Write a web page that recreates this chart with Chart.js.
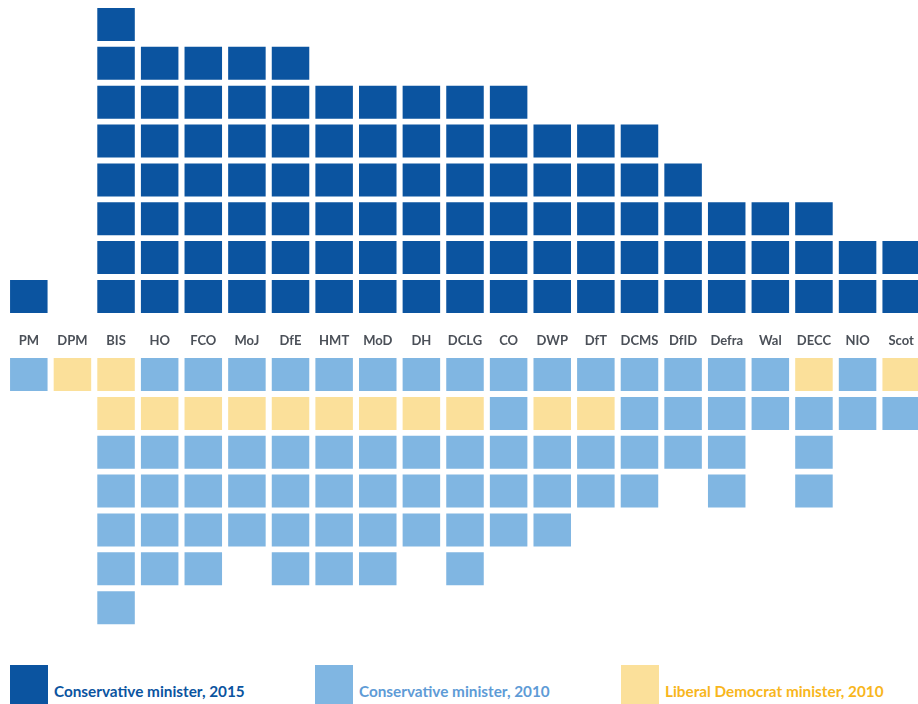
<!DOCTYPE html>
<html>
<head>
<meta charset="utf-8">
<script src="https://cdn.jsdelivr.net/npm/chart.js@4.4.1/dist/chart.umd.min.js"></script>
<style>
  html, body { margin: 0; padding: 0; background: #fff; overflow: hidden; width: 918px; height: 704px; }
  #wrap { position: absolute; left: 0; top: 0; width: 923px; height: 640px; }
  .key { position: absolute; top: 665px; height: 39px; font: bold 15.3px Lato, sans-serif; }
  .key span.box { position: absolute; left: 0; top: 0; width: 38px; height: 39px; }
  .key span.txt { position: absolute; left: 44px; top: 17px; white-space: nowrap; line-height: 18px; }
</style>
</head>
<body>
<div id="wrap"><canvas id="myChart" width="923" height="640"></canvas></div>

<div class="key" style="left:10px"><span class="box" style="background:#0b54a0"></span><span class="txt" style="color:#0b54a0">Conservative minister, 2015</span></div>
<div class="key" style="left:315px"><span class="box" style="background:#80b6e2"></span><span class="txt" style="color:#5e9bd6">Conservative minister, 2010</span></div>
<div class="key" style="left:621px"><span class="box" style="background:#fbe09a"></span><span class="txt" style="color:#f8b61c">Liberal Democrat minister, 2010</span></div>

<script>
var departments = ['PM', 'DPM', 'BIS', 'HO', 'FCO', 'MoJ', 'DfE', 'HMT', 'MoD', 'DH', 'DCLG', 'CO', 'DWP', 'DfT', 'DCMS', 'DfID', 'Defra', 'Wal', 'DECC', 'NIO', 'Scot'];

// number of Conservative ministers per department, 2015 (stacked upwards)
var conservative2015 = [1, 0, 8, 7, 7, 7, 7, 6, 6, 6, 6, 6, 5, 5, 5, 4, 3, 3, 3, 2, 2];

// ministers per department in 2010, listed from the axis downwards
// C = Conservative, L = Liberal Democrat
var ministers2010 = ['C', 'L', 'LLCCCCC', 'CLCCCC', 'CLCCCC', 'CLCCC', 'CLCCCC', 'CLCCCC', 'CLCCCC', 'CLCCC', 'CLCCCC',
    'CCCCC', 'CLCCC', 'CLCC', 'CCCC', 'CCC', 'CCCC', 'CC', 'LCCC', 'CC', 'LC'];

var dark = '#0b54a0';
var colours2010 = { C: '#80b6e2', L: '#fbe09a' };

var gapFromAxis = 0.58;
var cellHeight = 0.85;

var datasets = [];

var topRows = Math.max.apply(null, conservative2015);
for (var k = 0; k < topRows; k++) {
    datasets.push({
        label: 'Conservative minister, 2015',
        data: conservative2015.map(function (n) {
            return n > k ? [k + gapFromAxis, k + gapFromAxis + cellHeight] : null;
        }),
        backgroundColor: dark
    });
}

var bottomRows = Math.max.apply(null, ministers2010.map(function (s) { return s.length; }));
for (var r = 0; r < bottomRows; r++) {
    datasets.push({
        label: '2010',
        data: ministers2010.map(function (s) {
            return s[r] ? [-(r + gapFromAxis + cellHeight), -(r + gapFromAxis)] : null;
        }),
        backgroundColor: ministers2010.map(function (s) {
            return s[r] ? colours2010[s[r]] : 'rgba(0,0,0,0)';
        })
    });
}

datasets.forEach(function (d) {
    d.grouped = false;
    d.borderWidth = 0;
    d.barPercentage = 0.86;
    d.categoryPercentage = 1;
});

var ctx = document.getElementById('myChart').getContext('2d');
var myChart = new Chart(ctx, {
    type: 'bar',
    data: {
        labels: departments,
        datasets: datasets
    },
    options: {
        responsive: false,
        animation: false,
        layout: { padding: { left: 7, right: 0, top: 0, bottom: 0 } },
        plugins: {
            legend: { display: false },
            tooltip: { enabled: false }
        },
        scales: {
            x: {
                position: { y: 0 },
                offset: true,
                grid: { display: false, drawTicks: false },
                border: { display: false },
                ticks: {
                    padding: -2,
                    color: '#4b5058',
                    font: { family: 'Lato', weight: 'bold', size: 13 },
                    maxRotation: 0,
                    autoSkip: false
                }
            },
            y: {
                display: false,
                min: -7.838,
                max: 8.636
            }
        }
    }
});
</script>
</body>
</html>
